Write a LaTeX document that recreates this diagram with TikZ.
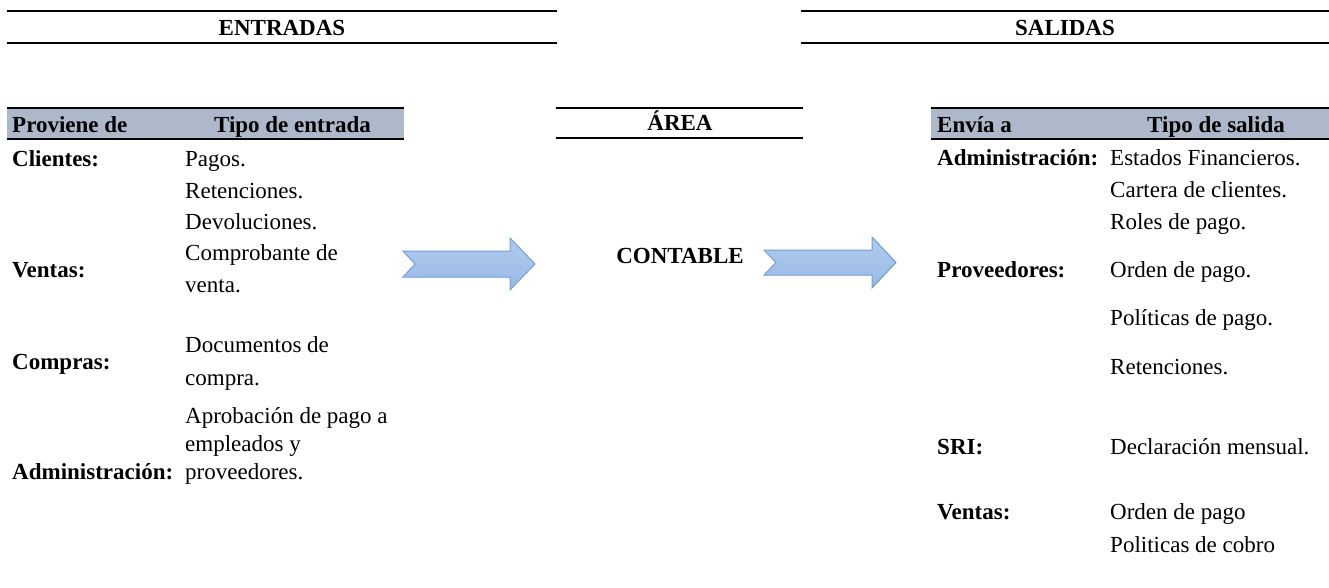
\documentclass[tikz,border=0pt]{standalone}
\usepackage{fontspec}
\setmainfont{Liberation Serif}
\definecolor{barfill}{RGB}{173,185,202}
\definecolor{arrowedge}{RGB}{112,158,216}
\definecolor{arrowtop}{RGB}{178,203,237}
\definecolor{arrowbot}{RGB}{152,185,229}
\begin{document}
\begin{tikzpicture}[x=1pt,y=-1pt,
  txt/.style={inner sep=0pt, anchor=base west, font=\fontsize{23}{27}\selectfont},
  btxt/.style={inner sep=0pt, anchor=base west, font=\fontsize{23}{27}\selectfont\bfseries},
  hdr/.style={inner sep=0pt, anchor=base, font=\fontsize{23}{27}\selectfont\bfseries},
  thinrule/.style={line width=1.5pt},
  thickrule/.style={line width=2.4pt},
  bigarrow/.style={draw=arrowedge, line width=1pt, top color=arrowtop, bottom color=arrowbot, line join=miter}]
\useasboundingbox (0,0) rectangle (1329,587);
% ---- section headers
\draw[thinrule] (7,11) -- (557,11);
\draw[thickrule] (7,43) -- (557,43);
\node[hdr] (entradas) at (282,35.5) {ENTRADAS};
\draw[thinrule] (801,11) -- (1329,11);
\draw[thickrule] (801,43) -- (1329,43);
\node[hdr] (salidas) at (1065,35.5) {SALIDAS};
% ---- table headers
\fill[barfill] (7,108) rectangle (404,139);
\draw[line width=2.2pt] (7,108) -- (404,108);
\draw[line width=1.8pt] (7,139) -- (404,139);
\node[btxt] (hprov) at (12,132) {Proviene de};
\node[hdr] (htipoe) at (292.5,132) {Tipo de entrada};
\fill[barfill] (931,108) rectangle (1329,139);
\draw[line width=2.2pt] (931,108) -- (1329,108);
\draw[line width=1.8pt] (931,139) -- (1329,139);
\node[btxt] (henv) at (937,132) {Envía a};
\node[hdr] (htipos) at (1216,132) {Tipo de salida};
\draw[line width=2.2pt] (556,108) -- (803,108);
\draw[line width=1.8pt] (556,138) -- (803,138);
\node[hdr] (area) at (680,130.6) {ÁREA};
\node[hdr] (contable) at (680,263.5) {CONTABLE};
% ---- arrows
\path[bigarrow] (403,251) -- (510,251) -- (510,238) -- (535,264) -- (510,290) -- (510,277) -- (403,277) -- (415,264) -- cycle;
\path[bigarrow] (764,250) -- (872,250) -- (872,237) -- (896,262.5) -- (872,288) -- (872,275) -- (764,275) -- (776,262.5) -- cycle;
% ---- left table
\node[btxt] (lcli) at (12,166) {Clientes:};
\node[txt] (l1) at (185,166) {Pagos.};
\node[txt] (l2) at (185,198) {Retenciones.};
\node[txt] (l3) at (185,229) {Devoluciones.};
\node[btxt] (lven) at (12,277) {Ventas:};
\node[txt] (l4) at (185,260) {Comprobante de};
\node[txt] (l5) at (185,292) {venta.};
\node[btxt] (lcom) at (12,369) {Compras:};
\node[txt] (l6) at (185,352) {Documentos de};
\node[txt] (l7) at (185,385) {compra.};
\node[btxt] (ladm) at (12,479) {Administración:};
\node[txt] (l8) at (185,423) {Aprobación de pago a};
\node[txt] (l9) at (185,451) {empleados y};
\node[txt] (l10) at (185,479) {proveedores.};
% ---- right table
\node[btxt] (radm) at (937,165) {Administración:};
\node[txt] (r1) at (1110,165) {Estados Financieros.};
\node[txt] (r2) at (1110,197) {Cartera de clientes.};
\node[txt] (r3) at (1110,229) {Roles de pago.};
\node[btxt] (rprov) at (937,277) {Proveedores:};
\node[txt] (r4) at (1110,277) {Orden de pago.};
\node[txt] (r5) at (1110,325) {Políticas de pago.};
\node[txt] (r6) at (1110,374) {Retenciones.};
\node[btxt] (rsri) at (937,454) {SRI:};
\node[txt] (r7) at (1110,454) {Declaración mensual.};
\node[btxt] (rven) at (937,519) {Ventas:};
\node[txt] (r8) at (1110,519) {Orden de pago};
\node[txt] (r9) at (1110,552) {Politicas de cobro};
\end{tikzpicture}
\end{document}
